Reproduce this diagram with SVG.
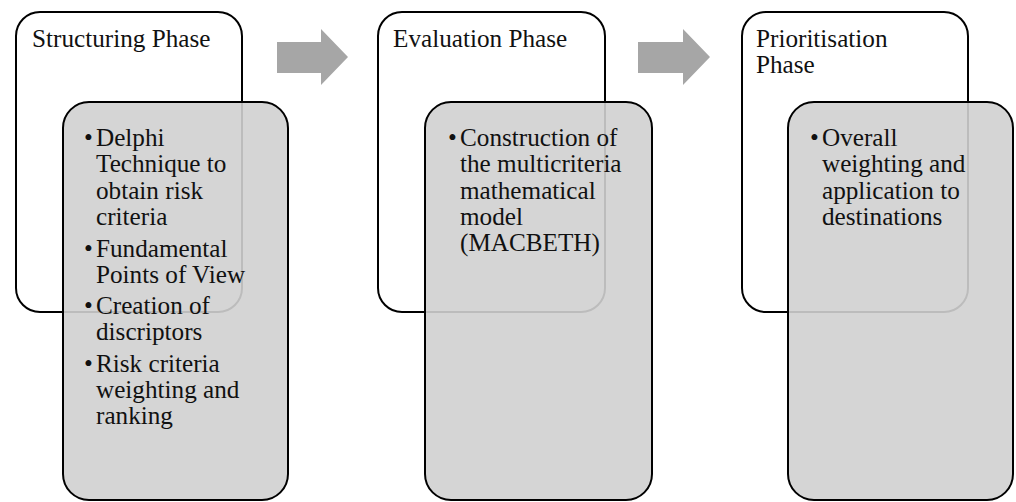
<svg xmlns="http://www.w3.org/2000/svg" width="1016" height="502" viewBox="0 0 1016 502">
<style>
.outer{fill:#ffffff;stroke:#000;stroke-width:2}
.inner{fill:#d0d0d0;fill-opacity:0.9;stroke:#000;stroke-width:2}
.t{font-family:'Liberation Serif','Times New Roman',Times,serif;font-size:25.2px;fill:#111}
.arrow{fill:#a6a6a6}
</style>
<rect width="1016" height="502" fill="#fff"/>
<g id="connectors">
<polygon class="arrow" points="277,42 321,42 321,29 348,57 321,85 321,73 277,73"/>
<polygon class="arrow" points="638,42 683,42 683,29 710,57 683,85 683,73 638,73"/>
</g>
<g id="structuring">
<rect class="outer" x="16" y="12" width="226" height="300" rx="24"/>
<rect class="inner" x="63" y="102" width="225" height="398" rx="26"/>
<text class="t" x="32" y="47">Structuring Phase</text>
<text class="t" x="84" y="146">•</text>
<text class="t"><tspan x="96" y="146">Delphi</tspan><tspan x="96" y="172.3">Technique to</tspan><tspan x="96" y="198.6">obtain risk</tspan><tspan x="96" y="224.9">criteria</tspan></text>
<text class="t" x="84" y="256.5">•</text>
<text class="t"><tspan x="96" y="256.5">Fundamental</tspan><tspan x="96" y="282.8">Points of View</tspan></text>
<text class="t" x="84" y="314">•</text>
<text class="t"><tspan x="96" y="314">Creation of</tspan><tspan x="96" y="340.3">discriptors</tspan></text>
<text class="t" x="84" y="371.7">•</text>
<text class="t"><tspan x="96" y="371.7">Risk criteria</tspan><tspan x="96" y="398">weighting and</tspan><tspan x="96" y="424.3">ranking</tspan></text>
</g>
<g id="evaluation">
<rect class="outer" x="378" y="12" width="227" height="300" rx="24"/>
<rect class="inner" x="425" y="102" width="227" height="398" rx="26"/>
<text class="t" x="393" y="47">Evaluation Phase</text>
<text class="t" x="448" y="146">•</text>
<text class="t"><tspan x="460" y="146">Construction of</tspan><tspan x="460" y="172.3">the multicriteria</tspan><tspan x="460" y="198.6">mathematical</tspan><tspan x="460" y="224.9">model</tspan><tspan x="460" y="251.2">(MACBETH)</tspan></text>
</g>
<g id="prioritisation">
<rect class="outer" x="742" y="12" width="226" height="300" rx="24"/>
<rect class="inner" x="788" y="102" width="225" height="398" rx="26"/>
<text class="t"><tspan x="756" y="47">Prioritisation</tspan><tspan x="756" y="73.3">Phase</tspan></text>
<text class="t" x="810" y="146">•</text>
<text class="t"><tspan x="822" y="146">Overall</tspan><tspan x="822" y="172.3">weighting and</tspan><tspan x="822" y="198.6">application to</tspan><tspan x="822" y="224.9">destinations</tspan></text>
</g>
</svg>
